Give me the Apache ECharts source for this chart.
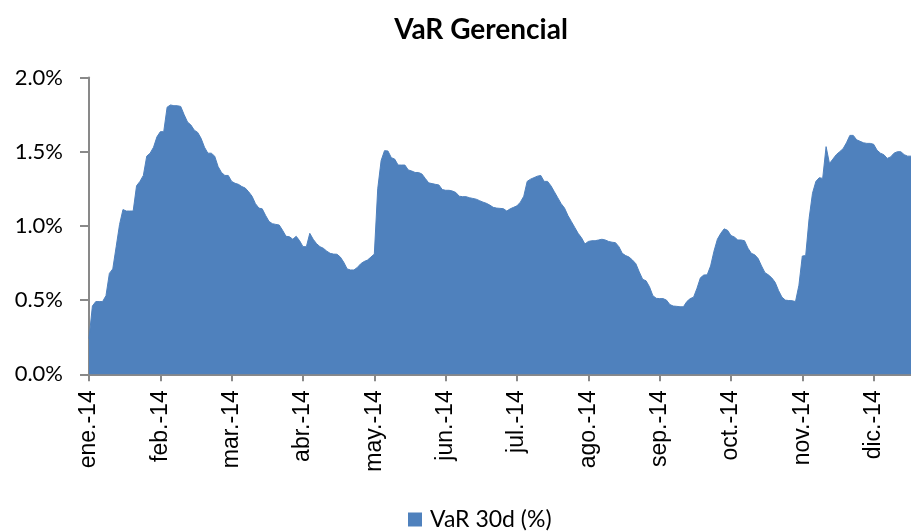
<!DOCTYPE html>
<html>
<head>
<meta charset="utf-8">
<script src="https://cdn.jsdelivr.net/npm/echarts@6/dist/echarts.min.js"></script>
<style>
  html, body { margin: 0; padding: 0; background: #fff; }
  #chart { width: 911px; height: 531px; }
</style>
</head>
<body>
<div id="chart"></div>
<script>
// month labels shown every 21 trading days
const monthLabels = ['ene.-14', 'feb.-14', 'mar.-14', 'abr.-14', 'may.-14', 'jun.-14',
  'jul.-14', 'ago.-14', 'sep.-14', 'oct.-14', 'nov.-14', 'dic.-14'];
const daysPerTick = 21;

// VaR 30d (%) daily values
const var30d = [
  0.24, 0.46, 0.49, 0.49, 0.49, 0.53, 0.68, 0.71, 0.86, 1.01,
  1.11, 1.10, 1.10, 1.10, 1.27, 1.30, 1.34, 1.47, 1.49, 1.53,
  1.60, 1.635, 1.635, 1.80, 1.815, 1.81, 1.81, 1.805, 1.75, 1.70,
  1.68, 1.645, 1.63, 1.59, 1.53, 1.49, 1.49, 1.47, 1.40, 1.36,
  1.34, 1.34, 1.30, 1.287, 1.28, 1.265, 1.255, 1.23, 1.20, 1.15,
  1.12, 1.115, 1.07, 1.03, 1.015, 1.01, 1.006, 0.97, 0.93, 0.927,
  0.91, 0.93, 0.90, 0.86, 0.86, 0.95, 0.91, 0.88, 0.86, 0.849,
  0.83, 0.815, 0.81, 0.809, 0.79, 0.755, 0.71, 0.703, 0.703, 0.72,
  0.745, 0.76, 0.77, 0.79, 0.81, 1.25, 1.44, 1.507, 1.505, 1.46,
  1.45, 1.41, 1.41, 1.41, 1.377, 1.37, 1.36, 1.36, 1.35, 1.32,
  1.29, 1.285, 1.28, 1.276, 1.245, 1.24, 1.24, 1.235, 1.225, 1.20,
  1.197, 1.197, 1.19, 1.185, 1.18, 1.17, 1.16, 1.152, 1.14, 1.125,
  1.12, 1.118, 1.116, 1.10, 1.115, 1.125, 1.135, 1.16, 1.20, 1.30,
  1.315, 1.325, 1.335, 1.34, 1.30, 1.30, 1.27, 1.23, 1.19, 1.15,
  1.12, 1.07, 1.03, 0.99, 0.95, 0.92, 0.878, 0.895, 0.90, 0.90,
  0.905, 0.91, 0.905, 0.895, 0.89, 0.887, 0.86, 0.815, 0.80, 0.79,
  0.77, 0.745, 0.69, 0.64, 0.63, 0.59, 0.53, 0.512, 0.51, 0.51,
  0.50, 0.47, 0.46, 0.458, 0.455, 0.455, 0.49, 0.51, 0.52, 0.58,
  0.65, 0.669, 0.67, 0.73, 0.83, 0.91, 0.95, 0.98, 0.97, 0.935,
  0.925, 0.905, 0.905, 0.90, 0.85, 0.815, 0.805, 0.78, 0.73, 0.685,
  0.67, 0.65, 0.62, 0.565, 0.52, 0.50, 0.497, 0.496, 0.49, 0.60,
  0.797, 0.80, 1.05, 1.22, 1.30, 1.325, 1.32, 1.534, 1.42, 1.45,
  1.48, 1.50, 1.52, 1.56, 1.61, 1.61, 1.58, 1.57, 1.56, 1.556,
  1.556, 1.55, 1.51, 1.49, 1.48, 1.455, 1.465, 1.49, 1.50, 1.50,
  1.48, 1.47, 1.47
];

const categories = var30d.map((v, i) =>
  i % daysPerTick === 0 ? (monthLabels[i / daysPerTick] || '') : '');

const axisGray = '#898989';
const chart = echarts.init(document.getElementById('chart'));

chart.setOption({
  animation: false,
  title: {
    text: 'VaR Gerencial',
    left: 476,
    top: 11,
    textAlign: 'center',
    textStyle: { fontFamily: 'Lato', fontWeight: 'bold', fontSize: 28, color: '#000' }
  },
  legend: {
    left: 403,
    top: 503,
    icon: 'rect',
    itemWidth: 14,
    itemHeight: 14,
    textStyle: { fontFamily: 'Lato', fontSize: 23, color: '#000', padding: [0, 0, 0, 3] },
    data: ['VaR 30d (%)']
  },
  grid: { left: 89, right: 0, top: 77.5, bottom: 156.7 },
  xAxis: {
    type: 'category',
    boundaryGap: false,
    data: categories,
    axisLine: { lineStyle: { color: axisGray, width: 2 } },
    axisTick: { interval: daysPerTick - 1, length: 7, lineStyle: { color: axisGray, width: 2 } },
    axisLabel: {
      interval: daysPerTick - 1,
      rotate: 90,
      margin: 16,
      fontFamily: '"Liberation Sans", Arial, sans-serif',
      fontSize: 23,
      color: '#000'
    },
    splitLine: { show: false }
  },
  yAxis: {
    type: 'value',
    min: 0,
    max: 2,
    interval: 0.5,
    axisLine: { show: true, lineStyle: { color: axisGray, width: 2 } },
    axisTick: { show: true, length: 9, lineStyle: { color: axisGray, width: 2 } },
    axisLabel: {
      margin: 26,
      fontFamily: 'Lato',
      fontSize: 22,
      color: '#000',
      formatter: v => v.toFixed(1) + '%'
    },
    splitLine: { show: false }
  },
  series: [{
    name: 'VaR 30d (%)',
    type: 'line',
    data: var30d,
    symbol: 'none',
    itemStyle: { color: '#4F81BD' },
    lineStyle: { color: '#4F81BD', width: 1 },
    areaStyle: { color: '#4F81BD', opacity: 1 }
  }]
});
</script>
</body>
</html>
